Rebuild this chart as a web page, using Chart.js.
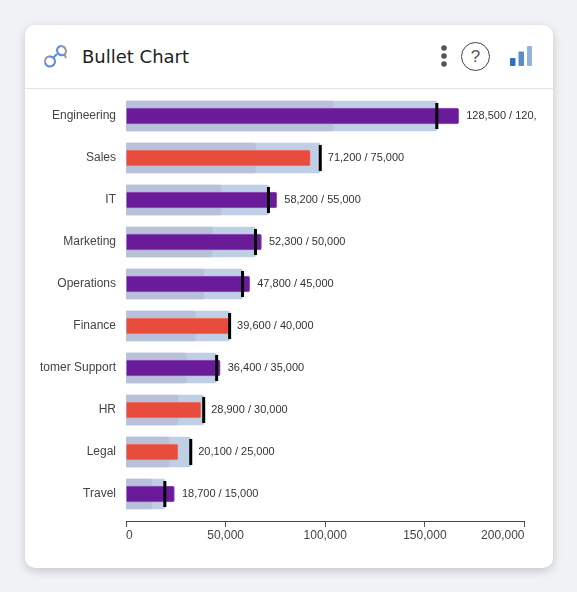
<!DOCTYPE html>
<html>
<head>
<meta charset="utf-8">
<title>Bullet Chart</title>
<script src="https://cdn.jsdelivr.net/npm/chart.js@4"></script>
<style>
    html, body { margin: 0; padding: 0; width: 577px; height: 592px; overflow: hidden; background: #f0f2f5; }
    .card {
        position: absolute; left: 25px; top: 25px; width: 528px; height: 543px;
        background: #fff; border-radius: 10px;
        box-shadow: 0 3px 10px rgba(0, 0, 0, 0.18);
    }
    .header { position: absolute; left: 0; top: 0; width: 528px; height: 63px; border-bottom: 1px solid #e4e4e4; }
    .title {
        position: absolute; left: 57px; top: 20px;
        font: 18px "DejaVu Sans", sans-serif; color: #222; line-height: 24px;
    }
    .icon { position: absolute; }
    .help {
        position: absolute; left: 436px; top: 17px; width: 27px; height: 27px;
        border: 1px solid #444; border-radius: 50%;
        font: 17px/27px "Liberation Sans", sans-serif; color: #555; text-align: center;
    }
    #chart { position: absolute; left: 40px; top: 89px; }
</style>
</head>
<body>
<div class="card">
    <div class="header">
        <svg class="icon" style="left:15px;top:15px" width="32" height="32" viewBox="0 0 32 32" fill="none">
            <path d="M13 18 L17 14" stroke="#5b8bd6" stroke-width="2"/>
            <path d="M5 21.5 A5 5 0 0 1 9 16.6" stroke="#9a9a9a" stroke-width="2"/>
            <path d="M9 16.6 A5 5 0 1 1 5 21.5" stroke="#5b8bd6" stroke-width="2"/>
            <path d="M17 11 A5 5 0 0 1 21 6" stroke="#5b8bd6" stroke-width="2"/>
            <path d="M21 6 A5 5 0 0 1 24.5 14.5 L26 18" stroke="#9a9a9a" stroke-width="2"/>
            <path d="M17 11 A5 5 0 0 0 24.5 14.5" stroke="#5b8bd6" stroke-width="2"/>
        </svg>
        <div class="title">Bullet Chart</div>
        <svg class="icon" style="left:413px;top:19px" width="12" height="26" viewBox="0 0 12 26">
            <circle cx="6" cy="4" r="2.8" fill="#555"/>
            <circle cx="6" cy="12" r="2.8" fill="#555"/>
            <circle cx="6" cy="20" r="2.8" fill="#555"/>
        </svg>
        <div class="help">?</div>
        <svg class="icon" style="left:484px;top:20px" width="24" height="22" viewBox="0 0 24 22">
            <rect x="1" y="13" width="5.5" height="8" rx="1" fill="#2f6fbf"/>
            <rect x="9.5" y="6.5" width="5.5" height="14.5" rx="1" fill="#5b8bc9"/>
            <rect x="18" y="1" width="5" height="20" rx="1" fill="#93b3dd"/>
        </svg>
    </div>
</div>
<canvas id="chart" width="497" height="471"></canvas>
<script>
    const categories = ["Engineering", "Sales", "IT", "Marketing", "Operations", "Finance", "Customer Support", "HR", "Legal", "Travel"];

    // numbers printed beside each bar
    const actualLabels = [128500, 71200, 58200, 52300, 47800, 39600, 36400, 28900, 20100, 18700];
    const targetLabels = [120000, 75000, 55000, 50000, 45000, 40000, 35000, 30000, 25000, 15000];

    const barValues = [167000, 92500, 75700, 68000, 62100, 51500, 47300, 37600, 26100, 24300];
    const targetMarks = [156000, 97500, 71500, 65000, 58500, 52000, 45500, 39000, 32500, 19500];
    const darkBand = [104000, 65000, 47700, 43300, 39000, 34700, 30300, 26000, 21700, 13000];
    const lightBand = [156000, 97500, 71500, 65000, 58500, 52000, 45500, 39000, 32500, 19500];

    const xTicks = [0, 50000, 100000, 150000, 200000];

    const toPoints = (values) => values.map((v, i) => ({ x: v, y: i }));
    const isBelow = (i) => barValues[i] < targetMarks[i];

    // Writes "actual / target" to the right of each bullet
    const valueLabels = {
        id: "valueLabels",
        afterDatasetsDraw(chart) {
            const { ctx, scales } = chart;
            ctx.save();
            ctx.font = '11px "Liberation Sans", Arial, sans-serif';
            ctx.fillStyle = "#333";
            ctx.textAlign = "left";
            ctx.textBaseline = "middle";
            categories.forEach((c, i) => {
                const end = Math.max(barValues[i], targetMarks[i]);
                const text = actualLabels[i].toLocaleString("en-US") + " / " + targetLabels[i].toLocaleString("en-US");
                ctx.fillText(text, scales.x.getPixelForValue(end) + 7.5, scales.y.getPixelForValue(i) - 0.5);
            });
            ctx.restore();
        }
    };

    new Chart(document.getElementById("chart"), {
        type: "bar",
        plugins: [valueLabels],
        data: {
            datasets: [
                { label: "Target", type: "scatter", data: toPoints(targetMarks), order: 1,
                  pointStyle: "line", rotation: 90, radius: 13, borderWidth: 3, borderColor: "#000", backgroundColor: "#000" },
                { label: "Actual", data: toPoints(barValues), order: 2, grouped: false, barThickness: 16, borderWidth: 1, borderRadius: 2,
                  backgroundColor: (ctx) => isBelow(ctx.dataIndex) ? "#e74c3c" : "#6a1b9a",
                  borderColor: (ctx) => isBelow(ctx.dataIndex) ? "#ea7b70" : "#9458b8" },
                { label: "Dark band", data: toPoints(darkBand), order: 3, grouped: false, barThickness: 30, borderRadius: 2, backgroundColor: "#b8c0da" },
                { label: "Light band", data: toPoints(lightBand), order: 4, grouped: false, barThickness: 30, borderRadius: 2, backgroundColor: "#bfcfe5" }
            ]
        },
        options: {
            indexAxis: "y",
            responsive: false,
            animation: false,
            layout: { autoPadding: false, padding: { top: 6, right: 12.5, left: 0, bottom: 0 } },
            plugins: { legend: { display: false }, tooltip: { enabled: false } },
            scales: {
                x: {
                    type: "linear", min: 0, max: 200000,
                    afterBuildTicks: (axis) => { axis.ticks = xTicks.map((v) => ({ value: v })); },
                    afterFit: (axis) => { axis.height = 39; },
                    border: { color: "#444", width: 1 },
                    grid: { drawOnChartArea: false, drawTicks: true, tickLength: 6, tickColor: "#555" },
                    ticks: {
                        align: "inner", maxRotation: 0, autoSkip: false, padding: 1, color: "#444",
                        font: { family: '"Liberation Sans", Arial, sans-serif', size: 12 },
                        callback: (v) => v.toLocaleString("en-US")
                    }
                },
                y: {
                    type: "linear", reverse: true, min: -0.5, max: 9.643, offset: false,
                    afterBuildTicks: (axis) => { axis.ticks = categories.map((c, i) => ({ value: i })); },
                    afterFit: (axis) => { axis.width = 86; axis.paddingTop = 0; axis.paddingBottom = 0; },
                    border: { display: false },
                    grid: { display: false, drawTicks: false, offset: false },
                    ticks: {
                        padding: 10, color: "#444", autoSkip: false,
                        font: { family: '"Liberation Sans", Arial, sans-serif', size: 12 },
                        callback: (v) => categories[v]
                    }
                }
            }
        }
    });
</script>
</body>
</html>
